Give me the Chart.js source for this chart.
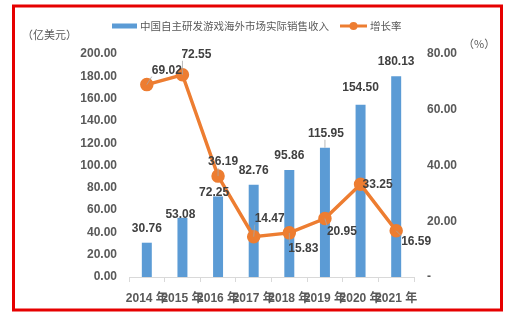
<!DOCTYPE html>
<html>
<head>
<meta charset="utf-8">
<script src="https://cdn.jsdelivr.net/npm/chart.js@4"></script>
<style>
  html, body { margin:0; padding:0; background:#fff; }
  canvas { display:block; }
</style>
</head>
<body>
<canvas id="c" width="513" height="325"></canvas>
<script>
const years = ['2014 年','2015 年','2016 年','2017 年','2018 年','2019 年','2020 年','2021 年'];
const revenue = [30.76, 53.08, 72.25, 82.76, 95.86, 115.95, 154.50, 180.13];
const growth = [69.02, 72.55, 36.19, 14.47, 15.83, 20.95, 33.25, 16.59];
const revenueName = '中国自主研发游戏海外市场实际销售收入';
const growthName = '增长率';

// label nudges (px), matching where the labels sit in the original
const barLabelOff = [[0,-14],[-2,-3],[-4,-4],[0,-14],[0,-14],[1,-14],[0,-17],[0,-14]];
const lineLabelOff = [[20,-14],[14,-20],[5,-14],[16,-18],[14,16],[17,13],[17,0],[20,11]];

const FONT = '"Liberation Sans", Arial, "Noto Sans CJK SC", sans-serif';
const CJK = '"Noto Sans CJK SC", "Liberation Sans", sans-serif';
const BLUE = '#5B9BD5', ORANGE = '#ED7D31', GREY = '#595959';

const extras = {
  id:'extras',
  beforeDraw(chart){
    const ctx = chart.ctx;
    ctx.save();
    ctx.strokeStyle = '#e60000'; ctx.lineWidth = 3;
    ctx.strokeRect(13.5, 6, 488, 304);
    ctx.restore();
  },
  afterDatasetsDraw(chart){
    const ctx = chart.ctx;
    ctx.save();
    ctx.font = 'bold 12px ' + FONT;
    ctx.textAlign = 'center'; ctx.textBaseline = 'middle';
    const leader = (px, py, lx, ly, w, h)=>{
      const cx = Math.max(lx - w/2, Math.min(px, lx + w/2));
      const cy = Math.max(ly - h/2, Math.min(py, ly + h/2));
      if (Math.hypot(cx-px, cy-py) < 4) return;
      ctx.beginPath(); ctx.moveTo(px, py); ctx.lineTo(cx, cy);
      ctx.strokeStyle = '#a6a6a6'; ctx.lineWidth = 0.8; ctx.stroke();
    };
    const barMeta = chart.getDatasetMeta(1), lineMeta = chart.getDatasetMeta(0);
    barMeta.data.forEach((el,i)=>{
      const t = revenue[i].toFixed(2);
      const x = el.x + barLabelOff[i][0], y = el.y + barLabelOff[i][1];
      const w = ctx.measureText(t).width;
      if (i === 5) leader(el.x, el.y, x, y, w, 12);
      ctx.fillStyle = '#404040';
      ctx.fillText(t, x, y);
    });
    lineMeta.data.forEach((el,i)=>{
      const t = growth[i].toFixed(2);
      const x = el.x + lineLabelOff[i][0], y = el.y + lineLabelOff[i][1];
      const w = ctx.measureText(t).width;
      if (i !== 6) leader(el.x, el.y, x, y, w, 12);
      ctx.fillStyle = '#404040';
      ctx.fillText(t, x, y);
    });
    ctx.restore();
  },
  afterDraw(chart){
    const ctx = chart.ctx;
    ctx.save();
    ctx.fillStyle = GREY;
    ctx.font = '11px ' + CJK;
    ctx.textBaseline = 'middle'; ctx.textAlign = 'left';
    ctx.fillText('（亿美元）', 22, 35);
    ctx.fillText('（%）', 463, 44);
    // legend
    ctx.font = '10.5px ' + CJK;
    ctx.fillStyle = BLUE; ctx.fillRect(112, 23.5, 25, 5);
    ctx.fillStyle = GREY; ctx.fillText(revenueName, 140, 26);
    ctx.strokeStyle = ORANGE; ctx.lineWidth = 3;
    ctx.beginPath(); ctx.moveTo(340, 26); ctx.lineTo(367, 26); ctx.stroke();
    ctx.fillStyle = ORANGE; ctx.beginPath(); ctx.arc(353.5, 26, 4, 0, Math.PI*2); ctx.fill();
    ctx.fillStyle = GREY; ctx.fillText(growthName, 370, 26);
    ctx.restore();
  }
};

new Chart(document.getElementById('c'), {
  data:{
    labels: years,
    datasets:[
      { type:'line', label:growthName, data:growth, yAxisID:'y1', borderColor:ORANGE, backgroundColor:ORANGE,
        borderWidth:3.5, pointRadius:5, pointBackgroundColor:ORANGE, pointBorderColor:ORANGE, tension:0, order:0 },
      { type:'bar', label:revenueName, data:revenue, yAxisID:'y', backgroundColor:BLUE,
        barPercentage:0.28, categoryPercentage:1, order:1 }
    ]
  },
  options:{
    responsive:false, animation:false,
    layout:{ padding:{ top:54, left:0, right:0, bottom:0 } },
    plugins:{ legend:{ display:false }, tooltip:{ enabled:false } },
    scales:{
      x:{
        offset:true,
        grid:{ display:true, drawOnChartArea:false, offset:true, color:'#d9d9d9', tickLength:5 },
        border:{ color:'#d9d9d9' },
        ticks:{ autoSkip:false, maxRotation:0, padding:9, color:GREY, font:{ family:FONT, size:12, weight:'bold' } },
        afterFit(s){ s.height = 48; }
      },
      y:{
        position:'left', min:0, max:200,
        grid:{ display:false }, border:{ display:false },
        ticks:{ stepSize:20, padding:4, color:GREY, font:{ family:FONT, size:12, weight:'bold' }, callback:v=>v.toFixed(2) },
        afterFit(s){ s.width = 129; }
      },
      y1:{
        position:'right', min:0, max:80,
        grid:{ display:false }, border:{ display:false },
        ticks:{ stepSize:20, padding:5, color:GREY, font:{ family:FONT, size:12, weight:'bold' }, callback:v=> v===0 ? '-' : v.toFixed(2) },
        afterFit(s){ s.width = 99; }
      }
    }
  },
  plugins:[extras]
});
</script>
</body>
</html>
